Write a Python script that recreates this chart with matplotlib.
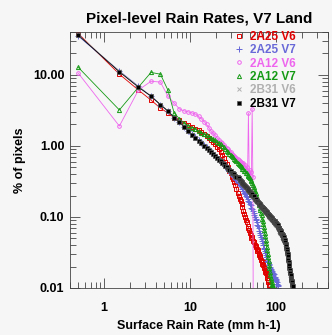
import matplotlib
matplotlib.use("Agg")
import matplotlib.pyplot as plt
from matplotlib.ticker import FixedLocator, FixedFormatter, LogLocator, NullFormatter
import numpy as np

plt.rcParams['font.family'] = ['Liberation Sans', 'DejaVu Sans']

# % of pixels per 1 mm/h rain-rate bin (first bin centred on 0.5 mm/h)
pr_v6 = [38, 10.2, 6.1, 4.4, 3.4, 2.9, 2.5, 2.3, 2.1, 1.95,
         1.85, 1.75, 1.65, 1.55, 1.45, 1.38, 1.3, 1.2, 1.12, 1.05,
         0.97, 0.9, 0.82, 0.75, 0.68, 0.6, 0.55, 0.5, 0.45, 0.41,
         0.37, 0.34, 0.31, 0.28, 0.25, 0.22, 0.2, 0.18, 0.165, 0.15,
         0.14, 0.12, 0.11, 0.1, 0.092, 0.085, 0.075, 0.07, 0.065, 0.06,
         0.055, 0.05, 0.052, 0.046, 0.044, 0.045, 0.04, 0.038, 0.039, 0.035,
         0.033, 0.034, 0.03, 0.029, 0.027, 0.028, 0.025, 0.024, 0.022, 0.023,
         0.021, 0.019, 0.02, 0.018, 0.017, 0.016, 0.017, 0.015, 0.014, 0.013,
         0.012, 0.011, 0.0105]

pr_v7 = [35, 11.3, 6.9, 5.0, 3.8, 3.05, 2.5, 2.15, 1.85, 1.62,
         1.45, 1.32, 1.2, 1.1, 1.02, 0.95, 0.89, 0.83, 0.78, 0.73,
         0.69, 0.65, 0.61, 0.58, 0.55, 0.52, 0.49, 0.46, 0.44, 0.42,
         0.4, 0.38, 0.36, 0.345, 0.33, 0.31, 0.3, 0.285, 0.27, 0.26,
         0.245, 0.235, 0.22, 0.21, 0.2, 0.19, 0.18, 0.17, 0.16, 0.15,
         0.145, 0.135, 0.13, 0.12, 0.115, 0.108, 0.1, 0.095, 0.09, 0.084,
         0.078, 0.074, 0.069, 0.064, 0.06, 0.056, 0.053, 0.049, 0.046, 0.043,
         0.04, 0.037, 0.035, 0.033, 0.031, 0.029, 0.027, 0.026, 0.024, 0.023,
         0.023, 0.021, 0.022, 0.02, 0.02, 0.019, 0.0185, 0.018, 0.017, 0.0175,
         0.016, 0.0165, 0.015, 0.0155, 0.0145, 0.014, 0.0142, 0.0135, 0.013, 0.0132,
         0.0125, 0.012, 0.0115, 0.011, 0.0105, 0.0101]

tmi_v6 = [10.5, 1.9, 6.1, 8.1, 7.9, 5.0, 4.0, 3.3, 3.1, 3.0,
          2.9, 2.8, 2.6, 2.4, 2.2, 2.0, 1.8, 1.6, 1.5, 1.4,
          1.3, 1.2, 1.15, 1.08, 1.02, 0.97, 0.93, 0.9, 0.86, 0.82,
          0.78, 0.75, 0.72, 0.7, 0.68, 0.65, 0.63, 0.61, 0.59, 0.57,
          0.55, 0.58, 0.5, 0.54, 0.46, 0.5, 0.43, 2.9, 0.4, 0.46,
          0.38, 0.43, 3.3, 0.36, 0.0001]

tmi_v7 = [12.7, 3.2, 6.7, 10.8, 10.2, 6.1, 2.9, 2.4, 2.1, 1.9,
          1.8, 1.7, 1.6, 1.5, 1.45, 1.4, 1.35, 1.3, 1.25, 1.2,
          1.15, 1.1, 1.05, 1.0, 0.95, 0.9, 0.86, 0.82, 0.78, 0.75,
          0.72, 0.69, 0.66, 0.63, 0.61, 0.58, 0.56, 0.54, 0.52, 0.5,
          0.48, 0.47, 0.45, 0.44, 0.42, 0.41, 0.39, 0.38, 0.36, 0.35,
          0.33, 0.32, 0.3, 0.28, 0.26, 0.25, 0.23, 0.22, 0.2, 0.19,
          0.18, 0.165, 0.155, 0.145, 0.135, 0.125, 0.115, 0.105, 0.095, 0.088,
          0.08, 0.073, 0.066, 0.06, 0.054, 0.048, 0.043, 0.038, 0.034, 0.03,
          0.027, 0.024, 0.021, 0.019, 0.017, 0.015, 0.014, 0.013, 0.012, 0.0115,
          0.011, 0.0105, 0.0102]

com_v6 = [36.5, 11.2, 6.8, 5.0, 3.8, 3.1, 2.5, 2.15, 1.85, 1.6,
          1.42, 1.3, 1.18, 1.08, 1.0, 0.93, 0.87, 0.81, 0.76, 0.72,
          0.68, 0.64, 0.61, 0.58, 0.55, 0.52, 0.5, 0.48, 0.46, 0.44,
          0.42, 0.41, 0.4, 0.38, 0.37, 0.36, 0.35, 0.33, 0.32, 0.31,
          0.3, 0.29, 0.28, 0.27, 0.265, 0.255, 0.25, 0.24, 0.23, 0.225,
          0.215, 0.21, 0.2, 0.2, 0.185, 0.19, 0.178, 0.176, 0.17, 0.172,
          0.16, 0.163, 0.155, 0.15, 0.152, 0.142, 0.146, 0.135, 0.138, 0.13,
          0.132, 0.125, 0.127, 0.12, 0.122, 0.115, 0.119, 0.112, 0.114, 0.107,
          0.108, 0.104, 0.101, 0.103, 0.097, 0.1, 0.094, 0.096, 0.091, 0.093,
          0.09, 0.087, 0.089, 0.085, 0.084, 0.085, 0.08, 0.082, 0.078, 0.079,
          0.078, 0.075, 0.076, 0.071, 0.073, 0.069, 0.068, 0.069, 0.064, 0.065,
          0.063, 0.06, 0.061, 0.058, 0.059, 0.056, 0.055, 0.053, 0.054, 0.051,
          0.052, 0.049, 0.05, 0.047, 0.046, 0.044, 0.045, 0.042, 0.04, 0.038,
          0.037, 0.035, 0.033, 0.032, 0.03, 0.029, 0.027, 0.025, 0.024, 0.022,
          0.021, 0.02, 0.018, 0.0175, 0.016, 0.0165, 0.015, 0.0145, 0.0135, 0.013,
          0.0125, 0.012, 0.0115, 0.011, 0.0105, 0.0102]

com_v7 = [36, 11, 6.7, 5.0, 3.8, 3.1, 2.5, 2.15, 1.85, 1.6,
          1.42, 1.3, 1.18, 1.08, 1.0, 0.93, 0.87, 0.81, 0.76, 0.72,
          0.68, 0.64, 0.61, 0.58, 0.55, 0.52, 0.5, 0.48, 0.46, 0.44,
          0.42, 0.41, 0.4, 0.38, 0.37, 0.36, 0.35, 0.33, 0.32, 0.31,
          0.3, 0.29, 0.28, 0.27, 0.265, 0.255, 0.25, 0.24, 0.23, 0.225,
          0.22, 0.205, 0.21, 0.195, 0.19, 0.195, 0.18, 0.172, 0.178, 0.168,
          0.165, 0.16, 0.158, 0.152, 0.15, 0.145, 0.143, 0.138, 0.14, 0.133,
          0.135, 0.128, 0.13, 0.125, 0.12, 0.122, 0.116, 0.118, 0.112, 0.11,
          0.11, 0.107, 0.104, 0.106, 0.1, 0.102, 0.097, 0.099, 0.094, 0.096,
          0.093, 0.09, 0.092, 0.088, 0.086, 0.087, 0.083, 0.085, 0.081, 0.08,
          0.081, 0.077, 0.079, 0.074, 0.076, 0.072, 0.07, 0.071, 0.067, 0.066,
          0.065, 0.062, 0.063, 0.06, 0.061, 0.058, 0.057, 0.055, 0.056, 0.053,
          0.054, 0.051, 0.052, 0.049, 0.048, 0.046, 0.047, 0.044, 0.042, 0.04,
          0.039, 0.036, 0.035, 0.033, 0.031, 0.03, 0.028, 0.026, 0.025, 0.023,
          0.022, 0.021, 0.019, 0.018, 0.017, 0.017, 0.016, 0.015, 0.014, 0.0135,
          0.013, 0.0125, 0.012, 0.0115, 0.011, 0.0105]

series = [
    ('2A25 V6', pr_v6, '#e00000', dict(marker='s', mfc='none', ms=3.4, mew=0.7)),
    ('2A25 V7', pr_v7, '#6868d8', dict(marker='+', ms=3.8, mew=0.7)),
    ('2A12 V6', tmi_v6, '#ee66ee', dict(marker='o', mfc='none', ms=2.6, mew=0.7)),
    ('2A12 V7', tmi_v7, '#159a15', dict(marker='^', mfc='none', ms=3.0, mew=0.7)),
    ('2B31 V6', com_v6, '#b0b0b0', dict(marker='x', ms=3.0, mew=0.7)),
    ('2B31 V7', com_v7, '#000000', dict(marker='s', ms=2.3, mew=0.5, mec='#555555')),
]

fig = plt.figure(figsize=(3.32, 3.35), dpi=100, facecolor='#f6f6f6')
ax = fig.add_axes([70/332, 1 - 288/335, 258/332, 256/335], facecolor='#f6f6f6')

for name, vals, col, mk in series:
    x = np.arange(len(vals)) + 0.5
    ax.plot(x, vals, color=col, lw=0.6, label=name, **mk)

ax.set_xscale('log')
ax.set_yscale('log')
ax.set_xlim(0.4, 400)
ax.set_ylim(0.01, 40)

ax.yaxis.set_major_locator(FixedLocator([0.01, 0.1, 1, 10]))
ax.yaxis.set_major_formatter(FixedFormatter(['0.01', '0.10', '1.00', '10.00']))
ax.xaxis.set_major_locator(FixedLocator([1, 10, 100]))
ax.xaxis.set_major_formatter(FixedFormatter(['1', '10', '100']))
ax.xaxis.set_minor_locator(LogLocator(base=10, subs=np.arange(2, 10)))
ax.yaxis.set_minor_locator(LogLocator(base=10, subs=np.arange(2, 10)))
ax.xaxis.set_minor_formatter(NullFormatter())
ax.yaxis.set_minor_formatter(NullFormatter())

ax.tick_params(which='both', direction='in', top=True, right=True,
               color='#444444', width=0.6, labelsize=9)
ax.tick_params(which='major', length=7)
ax.tick_params(which='minor', length=4)
ax.tick_params(axis='x', pad=10)
ax.tick_params(axis='y', pad=4)
for lab in ax.get_xticklabels() + ax.get_yticklabels():
    lab.set_fontweight('bold')
for sp in ax.spines.values():
    sp.set_color('#444444')
    sp.set_linewidth(0.6)

ax.set_title('Pixel-level Rain Rates, V7 Land', fontsize=11, fontweight='bold', pad=7)
ax.set_xlabel('Surface Rain Rate (mm h-1)', fontsize=9, fontweight='bold')
ax.set_ylabel('% of pixels', fontsize=9, fontweight='bold')
ax.xaxis.set_label_coords(0.5, -0.125)
ax.yaxis.set_label_coords(-0.17, 0.5)

leg = ax.legend(loc='upper left', bbox_to_anchor=(0.655, 1.005), frameon=False,
                handlelength=0, handletextpad=0.95, labelspacing=0.12,
                borderpad=0, borderaxespad=0, numpoints=1,
                labelcolor=[s[2] for s in series],
                prop={'weight': 'bold', 'size': 8.5})

fig.savefig('out.png', dpi=100, facecolor=fig.get_facecolor())
